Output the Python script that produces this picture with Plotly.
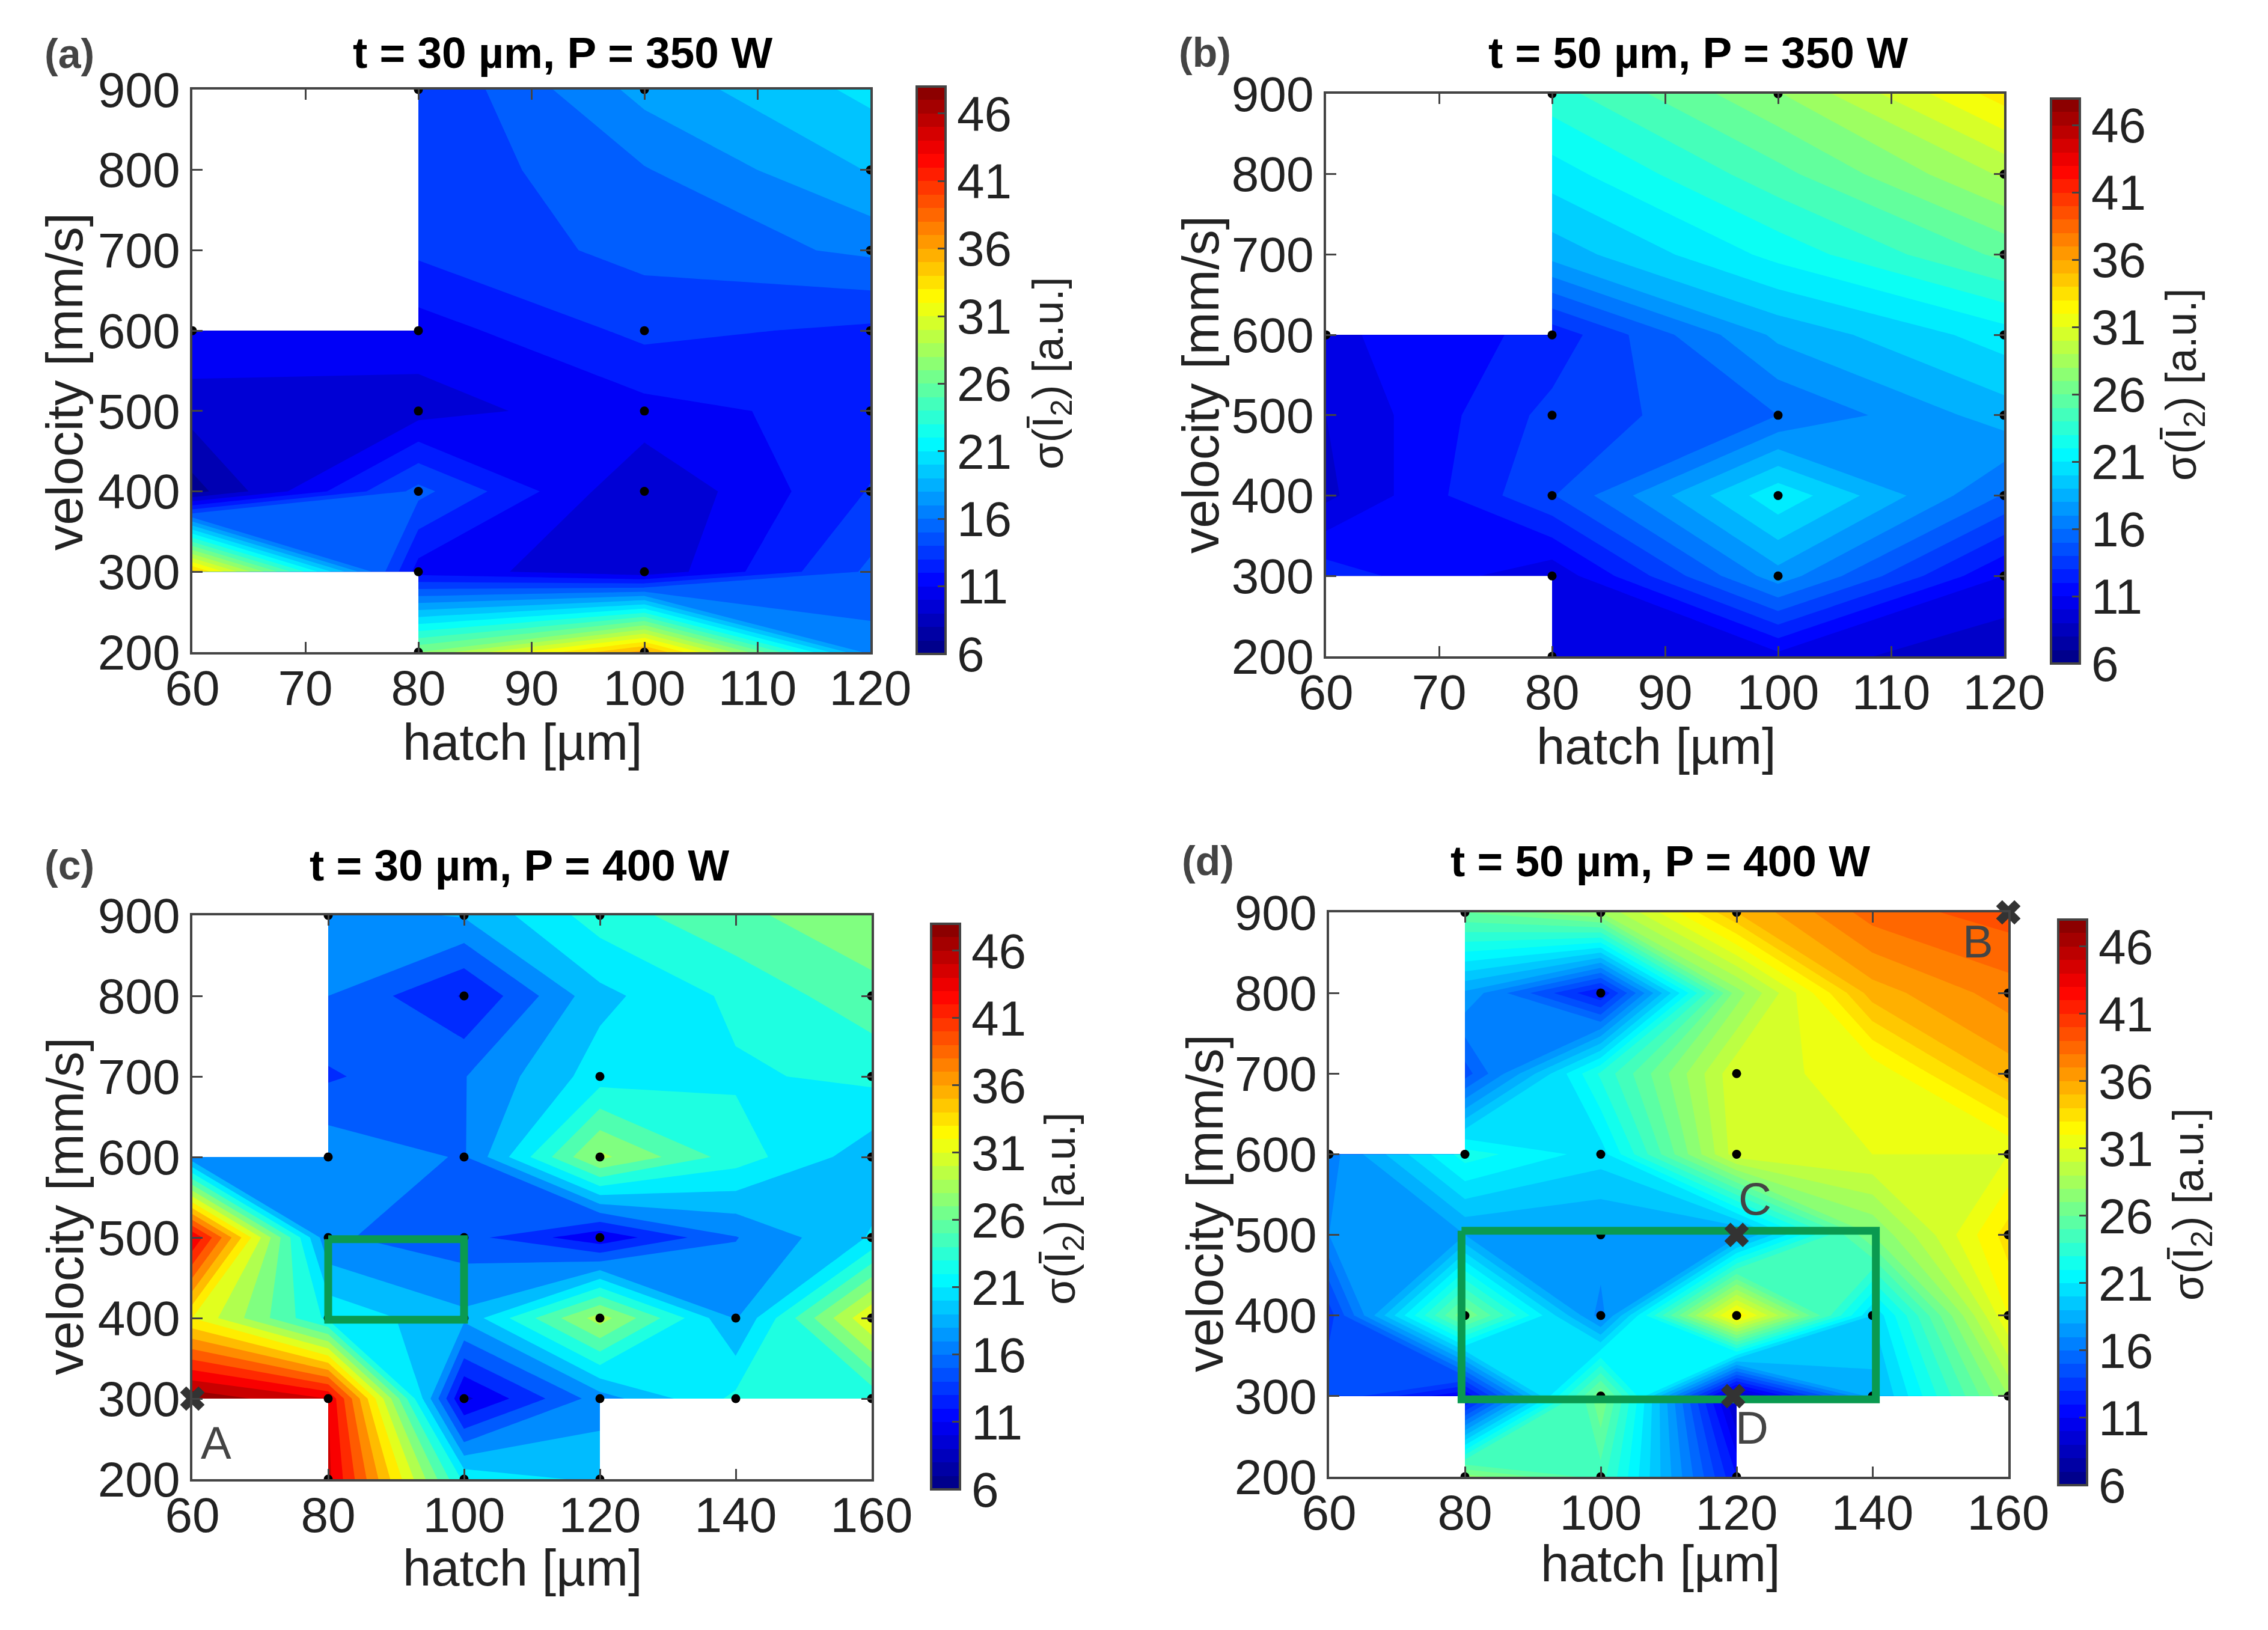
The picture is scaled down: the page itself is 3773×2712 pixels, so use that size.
import numpy as np
import plotly.graph_objects as go

W, H = 3773, 2712
OFF = 8  # the page body sits 8 px in

velocity = [200, 300, 400, 500, 600, 700, 800, 900]
hatch_ab = [60, 80, 100, 120]
hatch_cd = [60, 80, 100, 120, 140, 160]
cbar_ticks = [6, 11, 16, 21, 26, 31, 36, 41, 46]
N = None

# sigma values, one row per velocity (200 first), one column per hatch
z_a = [
    [N, 27.0, 36.0, 16.5],
    [34.5, 10.95, 9.1, 14.7],
    [6.8, 14.85, 8.8, 13.1],
    [9.4, 9.6, 11.1, 12.15],
    [11.4, 10.9, 13.4, 12.7],
    [N, 13.3, 14.85, 16.1],
    [N, 13.3, 15.7, 18.7],
    [N, 13.0, 17.7, 20.4],
]
z_b = [
    [N, 10.5, 10.4, 8.5],
    [12.7, 9.9, 17.5, 10.8],
    [9.3, 14.3, 21.3, 15.5],
    [9.6, 13.6, 15.6, 18.6],
    [10.5, 12.4, 18.3, 21.0],
    [N, 18.5, 22.0, 25.5],
    [N, 21.0, 24.8, 29.0],
    [N, 23.5, 27.5, 33.0],
]
z_c = [
    [N, 44.5, 21.5, 19.5, N, N],
    [47.5, 44.0, 9.5, 17.0, 22.5, 22.5],
    [32.0, 21.5, 18.5, 29.0, 17.8, 32.0],
    [44.0, 16.3, 14.8, 10.5, 15.9, 20.2],
    [16.5, 17.5, 15.8, 28.5, 23.0, 18.8],
    [N, 13.7, 15.9, 21.0, 21.7, 22.5],
    [N, 16.0, 11.8, 19.4, 22.5, 25.3],
    [N, 17.0, 18.2, 23.0, 25.5, 27.5],
]
z_d = [
    [N, 27.5, 24.5, 12.0, N, N],
    [15.0, 11.0, 27.0, 8.5, 18.5, 28.0],
    [13.5, 27.0, 16.5, 33.0, 20.0, 32.0],
    [17.0, 18.0, 17.8, 17.5, 27.0, 33.5],
    [16.5, 22.5, 20.5, 30.6, 31.0, 31.0],
    [N, 14.5, 23.2, 30.8, 31.2, 35.5],
    [N, 17.8, 12.0, 27.5, 35.5, 37.5],
    [N, 26.0, 28.0, 35.0, 38.5, 39.5],
]

# measured points, black dots
dots_x_a = [80, 100, 60, 80, 100, 120, 80, 100, 120, 80, 100, 120, 80, 100, 120, 120, 80, 100]
dots_y_a = [900, 900, 600, 600, 600, 600, 500, 500, 500, 400, 400, 400, 300, 300, 800, 700, 200, 200]
dots_x_b = [80, 100, 120, 120, 120, 120, 120, 120, 60, 80, 80, 80, 80, 100, 100, 100, 80]
dots_y_b = [900, 900, 800, 700, 600, 500, 400, 300, 600, 600, 500, 400, 300, 500, 400, 300, 200]
dots_x_c = [80, 100, 120, 100, 160, 120, 160, 80, 100, 120, 160, 80, 100, 120, 160, 80, 100, 120, 140, 160, 80, 100, 120, 140, 160, 80, 100, 120]
dots_y_c = [900, 900, 900, 800, 800, 700, 700, 600, 600, 600, 600, 500, 500, 500, 500, 400, 400, 400, 400, 400, 300, 300, 300, 300, 300, 200, 200, 200]
dots_x_d = [80, 100, 120, 100, 160, 120, 160, 60, 80, 100, 120, 160, 100, 160, 80, 100, 120, 140, 160, 100, 140, 160, 80, 100, 120]
dots_y_d = [900, 900, 900, 800, 800, 700, 700, 600, 600, 600, 600, 600, 500, 500, 400, 400, 400, 400, 400, 300, 300, 300, 200, 200, 200]

# outlined green regions
rect_x_c = [80, 100, 100, 80, 80]
rect_y_c = [498, 498, 398, 398, 498]
rect_x_d = [79.5, 140.5, 140.5, 79.5, 79.5]
rect_y_d = [505, 505, 296, 296, 505]

# marked samples
mark_x_c = [60]
mark_y_c = [300]
label_c = [("A", 63.5, 245)]
mark_x_d = [160, 120, 119.5]
mark_y_d = [900, 500, 300]
label_d = [("B", 155.5, 864), ("C", 122.7, 545), ("D", 122.3, 261)]

jet_stops = [[0, "rgb(0,0,128)"], [0.125, "rgb(0,0,255)"], [0.375, "rgb(0,255,255)"],
             [0.625, "rgb(255,255,0)"], [0.875, "rgb(255,0,0)"], [1, "rgb(128,0,0)"]]
jet_rgb = [(0, 0, 128), (0, 0, 255), (0, 255, 255), (255, 255, 0), (255, 0, 0), (128, 0, 0)]
jet_pos = [0, 0.125, 0.375, 0.625, 0.875, 1]


def stepped_jet(n):
    """Jet cut into n flat bands, for the colour bars."""
    scale = []
    for i in range(n):
        t = (i + 0.5) / n
        c = [int(round(np.interp(t, jet_pos, [p[k] for p in jet_rgb]))) for k in range(3)]
        col = f"rgb({c[0]},{c[1]},{c[2]})"
        scale.append([i / n, col])
        scale.append([(i + 1) / n, col])
    return scale


def px(x):
    return (x - OFF) / W


def py(y):
    return 1 - (y - OFF) / H


blocks_ab = [((80, 120), (200, 900)), ((60, 80), (300, 600))]
blocks_cd = [((80, 120), (200, 900)), ((60, 80), (300, 600)), ((120, 160), (300, 900))]

# plot widths are whole pixels per 20 um so the block seams land on the pixel grid
panels = [
    dict(title="t = 30 µm, P = 350 W", hatch=hatch_ab, z=z_a, dtick=10, step=1.4,
         box=(320, 1448, 149, 1085), cbar=(1525, 144, 1088), title_pos=(936, 87), letter="(a)", letter_pos=(115, 89),
         xlabel_pos=(869, 1234), ylabel_pos=(108, 635), cbar_label_pos=(1749, 621),
         dots=(dots_x_a, dots_y_a), blocks=blocks_ab),
    dict(title="t = 50 µm, P = 350 W", hatch=hatch_ab, z=z_b, dtick=10, step=1.2,
         box=(2206, 3334, 156, 1092), cbar=(3412, 164, 1104), title_pos=(2825, 87), letter="(b)", letter_pos=(2004, 87),
         xlabel_pos=(2755, 1241), ylabel_pos=(1997, 640), cbar_label_pos=(3633, 640),
         dots=(dots_x_b, dots_y_b), blocks=blocks_ab),
    dict(title="t = 30 µm, P = 400 W", hatch=hatch_cd, z=z_c, dtick=20, step=2,
         box=(320, 1450, 1523, 2461), cbar=(1549, 1537, 2478), title_pos=(864, 1439), letter="(c)", letter_pos=(115, 1439),
         xlabel_pos=(869, 2608), ylabel_pos=(108, 2007), cbar_label_pos=(1768, 2011),
         dots=(dots_x_c, dots_y_c), rect=(rect_x_c, rect_y_c),
         marks=(mark_x_c, mark_y_c), labels=label_c, blocks=blocks_cd),
    dict(title="t = 50 µm, P = 400 W", hatch=hatch_cd, z=z_d, dtick=20, step=1,
         box=(2211, 3341, 1518, 2457), cbar=(3424, 1530, 2471), title_pos=(2762, 1432), letter="(d)", letter_pos=(2009, 1432),
         xlabel_pos=(2762, 2601), ylabel_pos=(2004, 2002), cbar_label_pos=(3645, 2004),
         dots=(dots_x_d, dots_y_d), rect=(rect_x_d, rect_y_d),
         marks=(mark_x_d, mark_y_d), labels=label_d, blocks=blocks_cd),
]

FONT = "Liberation Sans"
TICK_SIZE = 82
LABEL_SIZE = 85
TEXT = "#222222"
AXIS = "#444444"
GREEN = "#0a9a50"

fig = go.Figure()
layout = {}
annotations = []


def add_text(text, pos, size, color, angle=0):
    annotations.append(dict(text=text, x=px(pos[0]), y=py(pos[1]), xref="paper", yref="paper", showarrow=False,
                            xanchor="center", yanchor="middle", textangle=angle,
                            font=dict(family=FONT, size=size, color=color)))


for i, p in enumerate(panels):
    suffix = "" if i == 0 else str(i + 1)
    xname, yname = "x" + suffix, "y" + suffix
    x0, x1, y0, y1 = p["box"]

    layout["xaxis" + suffix] = dict(
        domain=[px(x0), px(x1)], anchor=yname, range=[p["hatch"][0], p["hatch"][-1]], dtick=p["dtick"],
        ticks="inside", ticklen=17, tickwidth=3, tickcolor=AXIS, mirror="ticks", showline=True, linecolor=AXIS,
        linewidth=4, showgrid=False, zeroline=False, tickfont=dict(family=FONT, size=TICK_SIZE, color=TEXT),
        ticklabelstandoff=-14, automargin=False,
    )
    layout["yaxis" + suffix] = dict(
        domain=[py(y1), py(y0)], anchor=xname, range=[200, 900], dtick=100,
        ticks="inside", ticklen=17, tickwidth=3, tickcolor=AXIS, mirror="ticks", showline=True, linecolor=AXIS,
        linewidth=4, showgrid=False, zeroline=False, tickfont=dict(family=FONT, size=TICK_SIZE, color=TEXT),
        automargin=False,
    )

    # filled contours, one trace per rectangular block of measured cells
    hatch = np.array(p["hatch"])
    vel = np.array(velocity)
    z = np.array(p["z"], dtype=float)
    for (hx0, hx1), (vy0, vy1) in p["blocks"]:
        cols = (hatch >= hx0) & (hatch <= hx1)
        rows = (vel >= vy0) & (vel <= vy1)
        fig.add_trace(go.Contour(
            x=hatch[cols], y=vel[rows], z=z[rows][:, cols], xaxis=xname, yaxis=yname,
            colorscale=jet_stops, zmin=6, zmax=48, showscale=False, autocontour=False,
            contours=dict(start=6, end=48, size=p["step"], coloring="fill", showlines=False),
            line=dict(width=0, smoothing=0), hoverinfo="skip",
        ))

    fig.add_trace(go.Scatter(
        x=p["dots"][0], y=p["dots"][1], xaxis=xname, yaxis=yname, mode="markers",
        marker=dict(color="black", size=15), showlegend=False,
    ))

    if "rect" in p:
        fig.add_trace(go.Scatter(
            x=p["rect"][0], y=p["rect"][1], xaxis=xname, yaxis=yname, mode="lines",
            line=dict(color=GREEN, width=13), showlegend=False, cliponaxis=False,
        ))
    if "marks" in p:
        fig.add_trace(go.Scatter(
            x=p["marks"][0], y=p["marks"][1], xaxis=xname, yaxis=yname, mode="markers",
            marker=dict(color="#333333", symbol="x", size=36, line=dict(width=0)),
            showlegend=False, cliponaxis=False,
        ))
        for text, lx, ly in p["labels"]:
            annotations.append(dict(text=text, x=lx, y=ly, xref=xname, yref=yname, showarrow=False,
                                    font=dict(family=FONT, size=76, color="#444444")))

    # colour bar with its own flat 1-unit bands
    cx, cy0, cy1 = p["cbar"]
    fig.add_trace(go.Scatter(
        x=[None], y=[None], xaxis=xname, yaxis=yname, mode="markers", showlegend=False,
        marker=dict(color=[6], cmin=6, cmax=48, colorscale=stepped_jet(42), showscale=True, colorbar=dict(
            x=px(cx), xanchor="left", y=py((cy0 + cy1) / 2), yanchor="middle",
            thickness=48, thicknessmode="pixels", len=cy1 - cy0, lenmode="pixels", xpad=0, ypad=0,
            tickvals=cbar_ticks, ticks="inside", ticklen=15, tickwidth=3, tickcolor=AXIS,
            outlinecolor=AXIS, outlinewidth=4, borderwidth=0,
            tickfont=dict(family=FONT, size=TICK_SIZE, color=TEXT),
        )),
    ))

    add_text(f"<b>{p['title']}</b>", p["title_pos"], 73, "black")
    add_text(f"<b>{p['letter']}</b>", p["letter_pos"], 68, "#444444")
    add_text("hatch [µm]", p["xlabel_pos"], LABEL_SIZE, TEXT)
    add_text("velocity [mm/s]", p["ylabel_pos"], LABEL_SIZE, TEXT, angle=-90)
    add_text("σ(Ī<sub>2</sub>) [a.u.]", p["cbar_label_pos"], 72, TEXT, angle=-90)

fig.update_layout(
    width=W, height=H, margin=dict(l=0, r=0, t=0, b=0), paper_bgcolor="white", plot_bgcolor="white",
    showlegend=False, annotations=annotations, **layout,
)
fig.write_html("out.html")
